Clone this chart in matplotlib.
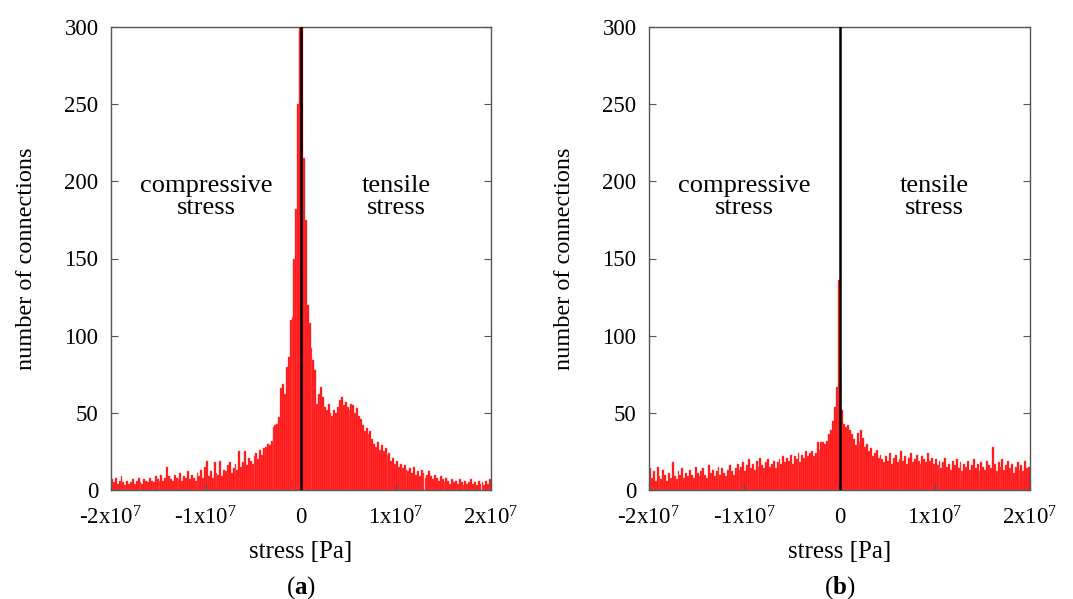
import numpy as np
import matplotlib
matplotlib.use("Agg")
import matplotlib.pyplot as plt

plt.rcParams['font.family'] = ['Liberation Serif', 'DejaVu Serif']
plt.rcParams['mathtext.fontset'] = 'custom'
plt.rcParams['mathtext.rm'] = 'Liberation Serif'
plt.rcParams['mathtext.it'] = 'Liberation Serif:italic'
plt.rcParams['mathtext.bf'] = 'Liberation Serif:bold'

# ---- data: histogram counts, 200 bins from -2e7 to 2e7 Pa ----
x_min, x_max = -2e7, 2e7

counts_a_left = [7, 5, 8, 4, 6, 9, 5, 3, 6, 4, 5, 7, 4, 6, 8, 5, 4, 7, 6, 5,
                 8, 6, 5, 9, 7, 6, 10, 6, 8, 15, 9, 7, 6, 10, 8, 7, 11, 6, 9, 8,
                 12, 7, 10, 8, 6, 11, 9, 13, 8, 15, 19, 9, 12, 8, 18, 11, 10, 19, 9, 13,
                 12, 16, 18, 11, 14, 17, 13, 25, 15, 18, 25, 16, 21, 19, 17, 22, 24, 20, 26, 23,
                 27, 28, 30, 29, 32, 41, 42, 43, 47]
counts_a_center = [66, 69, 62, 80, 86, 110, 112, 150, 182, 250, 310, 300, 215, 175, 120, 108, 92, 84, 78, 56, 62]
counts_a_right = [67, 60, 54, 52, 56, 50, 48, 52, 50, 54, 58, 60, 55, 57, 54, 52, 56, 55, 50, 53,
                  48, 46, 42, 38, 40, 36, 38, 33, 30, 28, 31, 26, 29, 25, 27, 23, 24, 19, 21, 17,
                  19, 15, 17, 14, 16, 13, 12, 14, 11, 15, 10, 12, 9, 13, 11, 8, 10, 12, 9, 7,
                  10, 8, 6, 9, 7, 5, 8, 6, 4, 7, 5, 6, 4, 7, 5, 3, 6, 4, 5, 7,
                  4, 5, 3, 6, 4, 5, 3, 6, 4, 7]
counts_a = counts_a_left + counts_a_center + counts_a_right

counts_b_left = [14, 8, 12, 6, 15, 9, 7, 13, 10, 6, 11, 8, 18, 9, 7, 12, 10, 14, 8, 11, 9,
                 13, 10, 8, 15, 11, 9, 12, 14, 10, 8, 16, 11, 13, 9, 12, 15, 10, 14, 11, 9, 13, 16, 12, 10, 14, 17,
                 13, 15, 18, 12, 16, 20, 14, 17, 13, 19, 15, 21, 16, 14, 18, 20, 15, 17, 19, 14, 18,
                 20, 17, 22, 18, 21, 19, 23, 17, 22, 20, 24, 18, 23, 21, 25, 22, 24]
counts_b_center = [25, 22, 24, 31, 26, 31, 31, 30, 32, 36, 39, 45, 54, 67, 136, 78, 52]
counts_b_right = [43, 41, 42, 39, 36, 33, 29, 37, 31,
                  39, 34, 28, 30, 25, 27, 22, 24, 26, 21, 23,
                  20, 18, 22, 19, 24, 17, 21, 23, 18, 20, 25, 19, 22, 17, 21, 24, 18, 20, 23, 19,
                  17, 22, 20, 18, 24, 19, 21, 17, 20,
                  16, 19, 14, 18, 21, 15, 17, 13, 19, 16, 20, 14, 18, 12, 17, 15, 19, 13, 16, 20,
                  14, 17, 12, 18, 15, 13, 19, 16, 14, 28, 17, 12, 18, 15, 20, 13, 16, 19, 14, 17,
                  11, 15, 18, 13, 16, 12, 19, 14, 15]
counts_b = counts_b_left + counts_b_center + counts_b_right

x_ticks = [-2e7, -1e7, 0, 1e7, 2e7]
x_tick_labels = [r"-2x10$^{7}$", r"-1x10$^{7}$", "0", r"1x10$^{7}$", r"2x10$^{7}$"]
y_ticks = [0, 50, 100, 150, 200, 250, 300]
panel_labels = [r"($\mathbf{a}$)", r"($\mathbf{b}$)"]

fig = plt.figure(figsize=(10.73, 5.99), dpi=100)
axes_pos = [[111 / 1073, 1 - 490 / 599, 380 / 1073, 463 / 599],
            [649 / 1073, 1 - 490 / 599, 381 / 1073, 463 / 599]]

for k, counts in enumerate([counts_a, counts_b]):
    ax = fig.add_axes(axes_pos[k])
    n = len(counts)
    edges = np.linspace(x_min, x_max, n + 1)
    ax.bar(edges[:-1], counts, width=np.diff(edges), align='edge',
           color='#ff0d0d', edgecolor='#ff5a5a', linewidth=0.3)
    ax.plot([0, 0], [0, 300], color='black', lw=1.8, zorder=5)
    ax.set_xlim(x_min, x_max)
    ax.set_ylim(0, 300)
    ax.set_xticks(x_ticks)
    ax.set_xticklabels(x_tick_labels)
    ax.set_yticks(y_ticks)
    ax.tick_params(axis='both', direction='in', labelsize=16.5, length=5,
                   color='#555555', right=True, top=False)
    ax.tick_params(axis='x', pad=12)
    ax.tick_params(axis='y', pad=9)
    for s in ax.spines.values():
        s.set_color('#555555')
        s.set_linewidth(1.0)
    ax.set_ylabel("number of connections", fontsize=17.5, labelpad=20)
    ax.set_xlabel("stress [Pa]", fontsize=18, labelpad=8)
    ax.text(-1.0e7, 190, "compressive\nstress", ha='center', va='center',
            fontsize=19, linespacing=1.0)
    ax.text(1.0e7, 190, "tensile\nstress", ha='center', va='center',
            fontsize=19, linespacing=1.0)
    ax.text(0.5, -0.21, panel_labels[k], transform=ax.transAxes,
            ha='center', va='center', fontsize=18)

fig.savefig("out.png", dpi=100)
